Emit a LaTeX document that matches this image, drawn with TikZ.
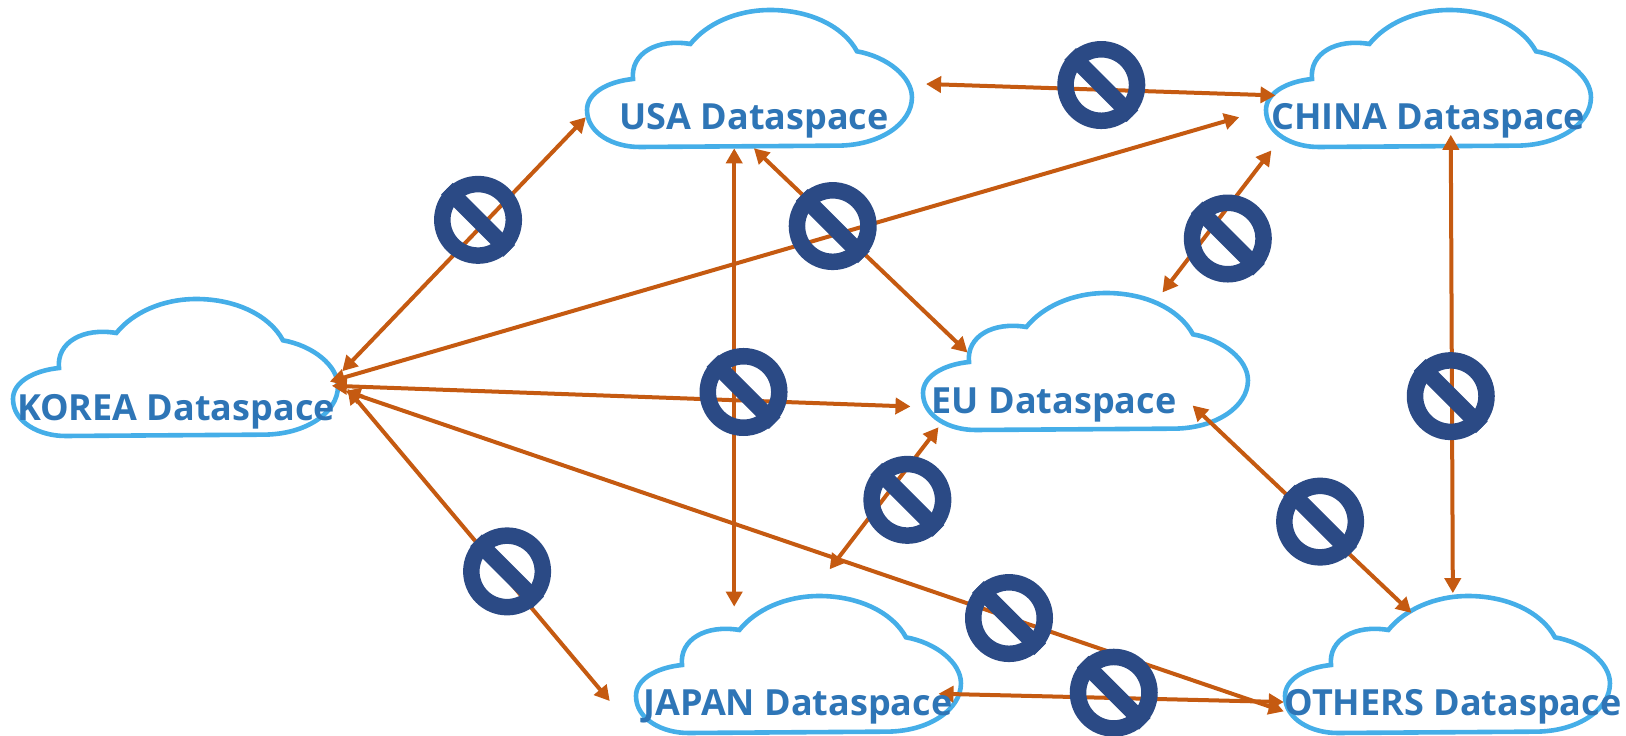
\documentclass[tikz,border=0pt]{standalone}
\usepackage{fontspec}
\setmainfont{Open Sans}
\usetikzlibrary{arrows.meta}
\definecolor{cloudc}{HTML}{45AEE8}
\definecolor{textc}{HTML}{2E75B6}
\definecolor{arrowc}{HTML}{C55A11}
\definecolor{noc}{HTML}{2B4A85}
\tikzset{
  cloudline/.style={draw=cloudc,line width=4.6pt,line join=miter},
  label/.style={text=textc,font=\fontsize{36}{40}\selectfont\bfseries,inner sep=0pt,anchor=center},
  link/.style={draw=arrowc,line width=4pt,{Triangle[length=15pt,width=16pt]}-{Triangle[length=15pt,width=16pt]}},
  nosign/.style={circle,draw=noc,line width=16.5pt,minimum size=71.5pt,inner sep=0pt},
  nobar/.style={draw=noc,line width=16.5pt}
}
\newcommand{\cloudshape}[2]{%
  \begin{scope}[shift={(#1,#2)},x=0.3333pt,y=-0.3333pt]
    \draw[cloudline] (138,207) .. controls (60,215) and (0,250) .. (0,300)
      .. controls (0,370) and (80,412) .. (160,411) -- (750,407)
      .. controls (880,407) and (975,340) .. (975,262)
      .. controls (975,200) and (900,140) .. (810,124)
      .. controls (770,50) and (670,0) .. (550,0)
      .. controls (450,0) and (360,40) .. (310,102)
      .. controls (210,85) and (130,130) .. (138,207) -- cycle;
  \end{scope}}
\newcommand{\nosymbol}[3]{%
  \node[nosign] (#1) at (#2*1.037,#3*1.037) {};
  \draw[nobar] (#1.135) -- (#1.-45);}
\newcommand{\bothlink}[6]{%
  \coordinate (#1) at (#3*1.037,#4*1.037);
  \coordinate (#2) at (#5*1.037,#6*1.037);
  \draw[link] (#1) -- (#2);}
\begin{document}
\begin{tikzpicture}[x=1pt,y=-1pt]
\useasboundingbox (0,0) rectangle (1626,736);
\cloudshape{587}{10}
\cloudshape{13}{299}
\cloudshape{1266}{10}
\cloudshape{923}{293}
\cloudshape{636}{596}
\cloudshape{1285}{596}
\bothlink{usaK}{koreaU}{565}{113}{330}{358}
\bothlink{koreaC}{chinaK}{318}{368}{1195}{113}
\bothlink{koreaE}{euK}{320}{372}{878}{392}
\bothlink{koreaO}{othersK}{333}{377}{1238}{686}
\bothlink{koreaJ}{japanK}{335}{375}{588}{676}
\bothlink{usaJ}{japanU}{708}{143}{708}{585}
\bothlink{usaE}{euU}{727}{143}{933}{340}
\bothlink{usaC}{chinaU}{893}{81}{1230}{92}
\bothlink{chinaE}{euC}{1226}{145}{1121}{282}
\bothlink{chinaO}{othersC}{1399}{130}{1401}{572}
\bothlink{euJ}{japanE}{905}{412}{800}{549}
\bothlink{euO}{othersE}{1150}{391}{1361}{591}
\bothlink{japanO}{othersJ}{905}{669}{1238}{677}
\node[label] (usa) at (754,121) {USA Dataspace};
\node[label] (korea) at (176,412) {KOREA Dataspace};
\node[label] (china) at (1428,121) {CHINA Dataspace};
\node[label] (eu) at (1054,405) {EU Dataspace};
\node[label] (japan) at (798,707) {JAPAN Dataspace};
\node[label] (others) at (1453,707) {OTHERS Dataspace};
\nosymbol{n1}{461}{212}
\nosymbol{n2}{803}{218}
\nosymbol{n3}{1062}{82}
\nosymbol{n4}{1184}{230}
\nosymbol{n5}{717}{378}
\nosymbol{n6}{1399}{382}
\nosymbol{n7}{875}{482}
\nosymbol{n8}{1273}{503}
\nosymbol{n9}{489}{551}
\nosymbol{n10}{973}{596}
\nosymbol{n11}{1074}{668}
\end{tikzpicture}
\end{document}
